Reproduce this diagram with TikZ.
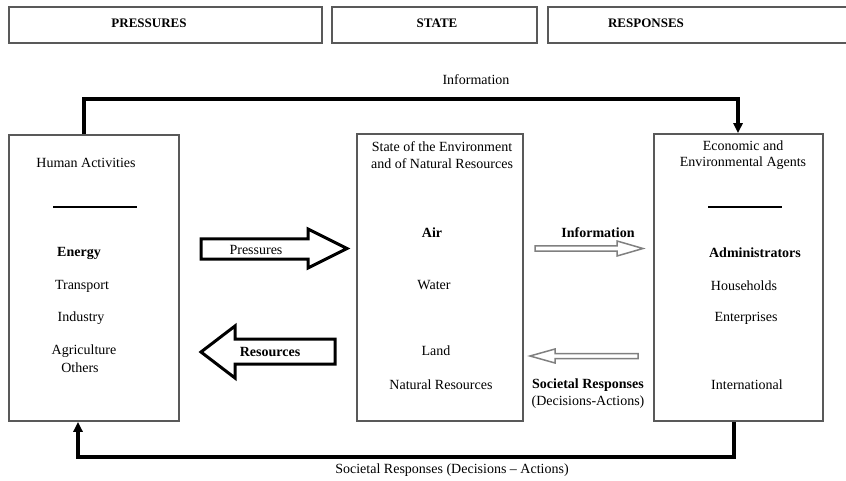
\documentclass[tikz,border=0pt]{standalone}
\usepackage{fontspec}
\setmainfont{Liberation Serif}
\usetikzlibrary{arrows.meta}
\begin{document}
\begin{tikzpicture}[x=1pt,y=-1pt,
  boxframe/.style={draw=black!65, line width=1.6pt, fill=white, inner sep=0pt},
  body/.style={font=\fontsize{14}{16.5}\selectfont, inner sep=0pt, align=center},
  bodyb/.style={font=\fontsize{14}{16.5}\selectfont\bfseries, inner sep=0pt, align=center},
  hdr/.style={font=\fontsize{13}{15}\selectfont\bfseries, inner sep=0pt},
  conn/.style={line width=4.5pt, line join=miter, -{Triangle[length=10pt,width=9pt]}},
  bigarrow/.style={draw=black, line width=3pt, fill=white, line join=miter},
  thinarrow/.style={draw=black!50, line width=1.5pt, fill=white, line join=miter},
  sepline/.style={line width=1.2pt}
]
\useasboundingbox (0,0) rectangle (846,481);

% header boxes
\node[boxframe, minimum width=313pt, minimum height=36pt] (hP) at (165.5,25) {};
\node[boxframe, minimum width=205pt, minimum height=36pt] (hS) at (434.5,25) {};
\node[boxframe, minimum width=308pt, minimum height=36pt] (hR) at (702,25) {};
\node[hdr] (tP) at (149,23) {PRESSURES};
\node[hdr] (tS) at (437,23) {STATE};
\node[hdr] (tR) at (646,23) {RESPONSES};

% main boxes
\node[boxframe, minimum width=170pt, minimum height=286pt] (left) at (94,278) {};
\node[boxframe, minimum width=166pt, minimum height=287pt] (mid) at (440,277.5) {};
\node[boxframe, minimum width=169pt, minimum height=287pt] (right) at (738.5,277.5) {};

% left box contents
\node[body] (ha) at (86,163) {Human Activities};
\coordinate (ls1) at (53,207);
\coordinate (ls2) at (137,207);
\draw[sepline] (ls1) -- (ls2);
\node[bodyb] (en) at (79,253) {Energy};
\node[body] (tr) at (82,286) {Transport};
\node[body] (in) at (81,318) {Industry};
\node[body] (ag) at (84,351) {Agriculture};
\node[body] (ot) at (80,368) {Others};

% middle box contents
\node[body] (st) at (442,155) {State of the Environment\\and of Natural Resources};
\node[bodyb] (air) at (432,233) {Air};
\node[body] (wa) at (434,285) {Water};
\node[body] (la) at (436,351) {Land};
\node[body] (nr) at (441,385) {Natural Resources};

% right box contents
\node[body] (ea) at (743,155) {Economic and\\Environmental Agents};
\coordinate (rs1) at (708,207);
\coordinate (rs2) at (782,207);
\draw[sepline] (rs1) -- (rs2);
\node[bodyb] (adm) at (755,253) {Administrators};
\node[body] (hh) at (744,286) {Households};
\node[body] (ent) at (746,318) {Enterprises};
\node[body] (int) at (747,385) {International};

% top connector
\coordinate (t1) at (84,99);
\coordinate (t2) at (738,99);
\draw[conn] (left.north -| t1) -- (t1) -- (t2) -- (right.north -| t2);
\node[body] (tinfo) at (476,80) {Information};

% bottom connector
\coordinate (b1) at (734,457);
\coordinate (b2) at (78,457);
\draw[conn] (right.south -| b1) -- (b1) -- (b2) -- (left.south -| b2);
\node[body] (bsr) at (452,470) {Societal Responses (Decisions -- Actions)};

% Pressures block arrow
\draw[bigarrow] (201,239) -- (308,239) -- (308,229) -- (347,248.5) -- (308,268) -- (308,259) -- (201,259) -- cycle;
\node[body] (pr) at (256,250) {Pressures};

% Resources block arrow
\draw[bigarrow] (201,352) -- (235,326) -- (235,339) -- (335,339) -- (335,364) -- (235,364) -- (235,378) -- cycle;
\node[bodyb] (re) at (270,352) {Resources};

% Information thin arrow
\draw[thinarrow] (535,246) -- (617,246) -- (617,241) -- (643,248.5) -- (617,256) -- (617,251) -- (535,251) -- cycle;
\node[bodyb] (ia) at (598,233) {Information};

% Societal responses thin arrow
\draw[thinarrow] (530,356) -- (555,349) -- (555,353.5) -- (638,353.5) -- (638,358.5) -- (555,358.5) -- (555,363) -- cycle;
\node[bodyb] (sra) at (588,385) {Societal Responses};
\node[body] (sda) at (588,402) {(Decisions-Actions)};
\end{tikzpicture}
\end{document}
